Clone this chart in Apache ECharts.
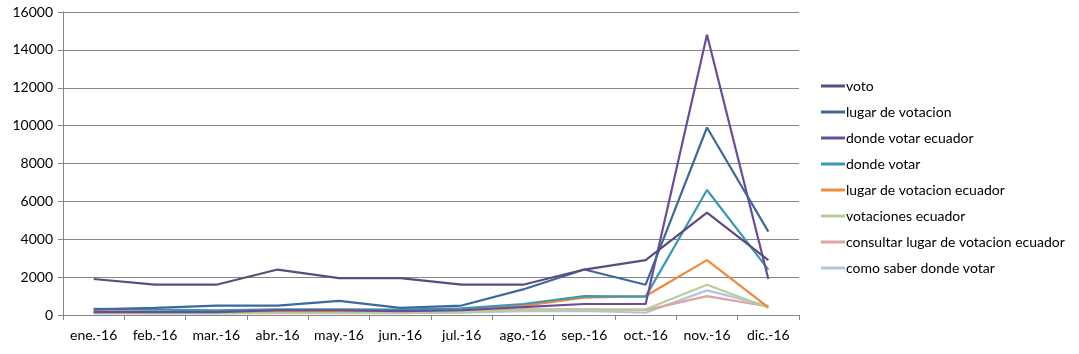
<!DOCTYPE html>
<html>
<head>
<meta charset="utf-8">
<script src="https://cdn.jsdelivr.net/npm/echarts@6/dist/echarts.min.js"></script>
<style>
html,body{margin:0;padding:0;background:#fff;}
#chart{width:1079px;height:354px;}
</style>
</head>
<body>
<div id="chart"></div>
<script>
// categorias (meses)
var meses = ['ene.-16','feb.-16','mar.-16','abr.-16','may.-16','jun.-16','jul.-16','ago.-16','sep.-16','oct.-16','nov.-16','dic.-16'];

// valores por termino de busqueda
var voto              = [1900,1600,1600,2400,1950,1950,1600,1600,2400,2900,5400,2900];
var lugarVotacion     = [300,380,500,500,750,380,500,1350,2400,1600,9900,4400];
var dondeVotarEcuador = [150,150,150,250,250,200,250,420,580,580,14800,1900];
var dondeVotar        = [320,280,250,300,300,280,350,580,1000,970,6600,2400];
var lugarVotEcuador   = [200,180,180,220,200,230,300,480,920,1000,2900,400];
var votacionesEcuador = [120,100,100,120,120,120,150,250,300,300,1600,380];
var consultarLugar    = [150,130,130,180,150,150,180,300,300,260,1000,450];
var comoSaber         = [80,80,80,100,100,100,120,200,220,120,1300,480];

var nombres = ['voto','lugar de votacion','donde votar ecuador','donde votar','lugar de votacion ecuador','votaciones ecuador','consultar lugar de votacion ecuador','como saber donde votar'];
var datos = [voto,lugarVotacion,dondeVotarEcuador,dondeVotar,lugarVotEcuador,votacionesEcuador,consultarLugar,comoSaber];
var colores = ['#5E4A80','#3F689C','#6A4C9C','#3A98B0','#EE8A3A','#B7CF96','#DCA3A2','#B5C3DE'];

var myChart = echarts.init(document.getElementById('chart'));

var series = [];
for (var i = 0; i < nombres.length; i++) {
    series.push({
        name: nombres[i],
        type: 'line',
        data: datos[i],
        symbol: 'none',
        z: 10 - i,
        lineStyle: { width: 2.2, color: colores[i] },
        itemStyle: { color: colores[i] }
    });
}

var fuente = 'Lato, "Open Sans", sans-serif';

var option = {
    animation: false,
    textStyle: { fontFamily: fuente },
    grid: { left: 63, right: 280, top: 12, bottom: 39 },
    legend: {
        orient: 'vertical',
        left: 816,
        top: 73,
        icon: 'rect',
        itemWidth: 24,
        itemHeight: 3,
        itemGap: 10,
        textStyle: { fontFamily: fuente, fontSize: 14, color: '#000', lineHeight: 16, padding: [0, 0, 0, -4] },
        data: nombres
    },
    xAxis: {
        type: 'category',
        data: meses,
        boundaryGap: true,
        axisLine: { lineStyle: { color: '#868686', width: 1 } },
        axisTick: { show: true, length: 5, lineStyle: { color: '#868686' } },
        axisLabel: { color: '#000', fontSize: 14, fontFamily: fuente, margin: 13, interval: 0 }
    },
    yAxis: {
        type: 'value',
        min: 0,
        max: 16000,
        interval: 2000,
        axisLine: { show: true, lineStyle: { color: '#868686', width: 1 } },
        axisTick: { show: true, length: 5, lineStyle: { color: '#868686' } },
        axisLabel: { color: '#000', fontSize: 14, fontFamily: fuente, margin: 10, formatter: function (v) { return String(v); } },
        splitLine: { lineStyle: { color: '#868686', width: 1 } }
    },
    series: series
};

myChart.setOption(option);
</script>
</body>
</html>
